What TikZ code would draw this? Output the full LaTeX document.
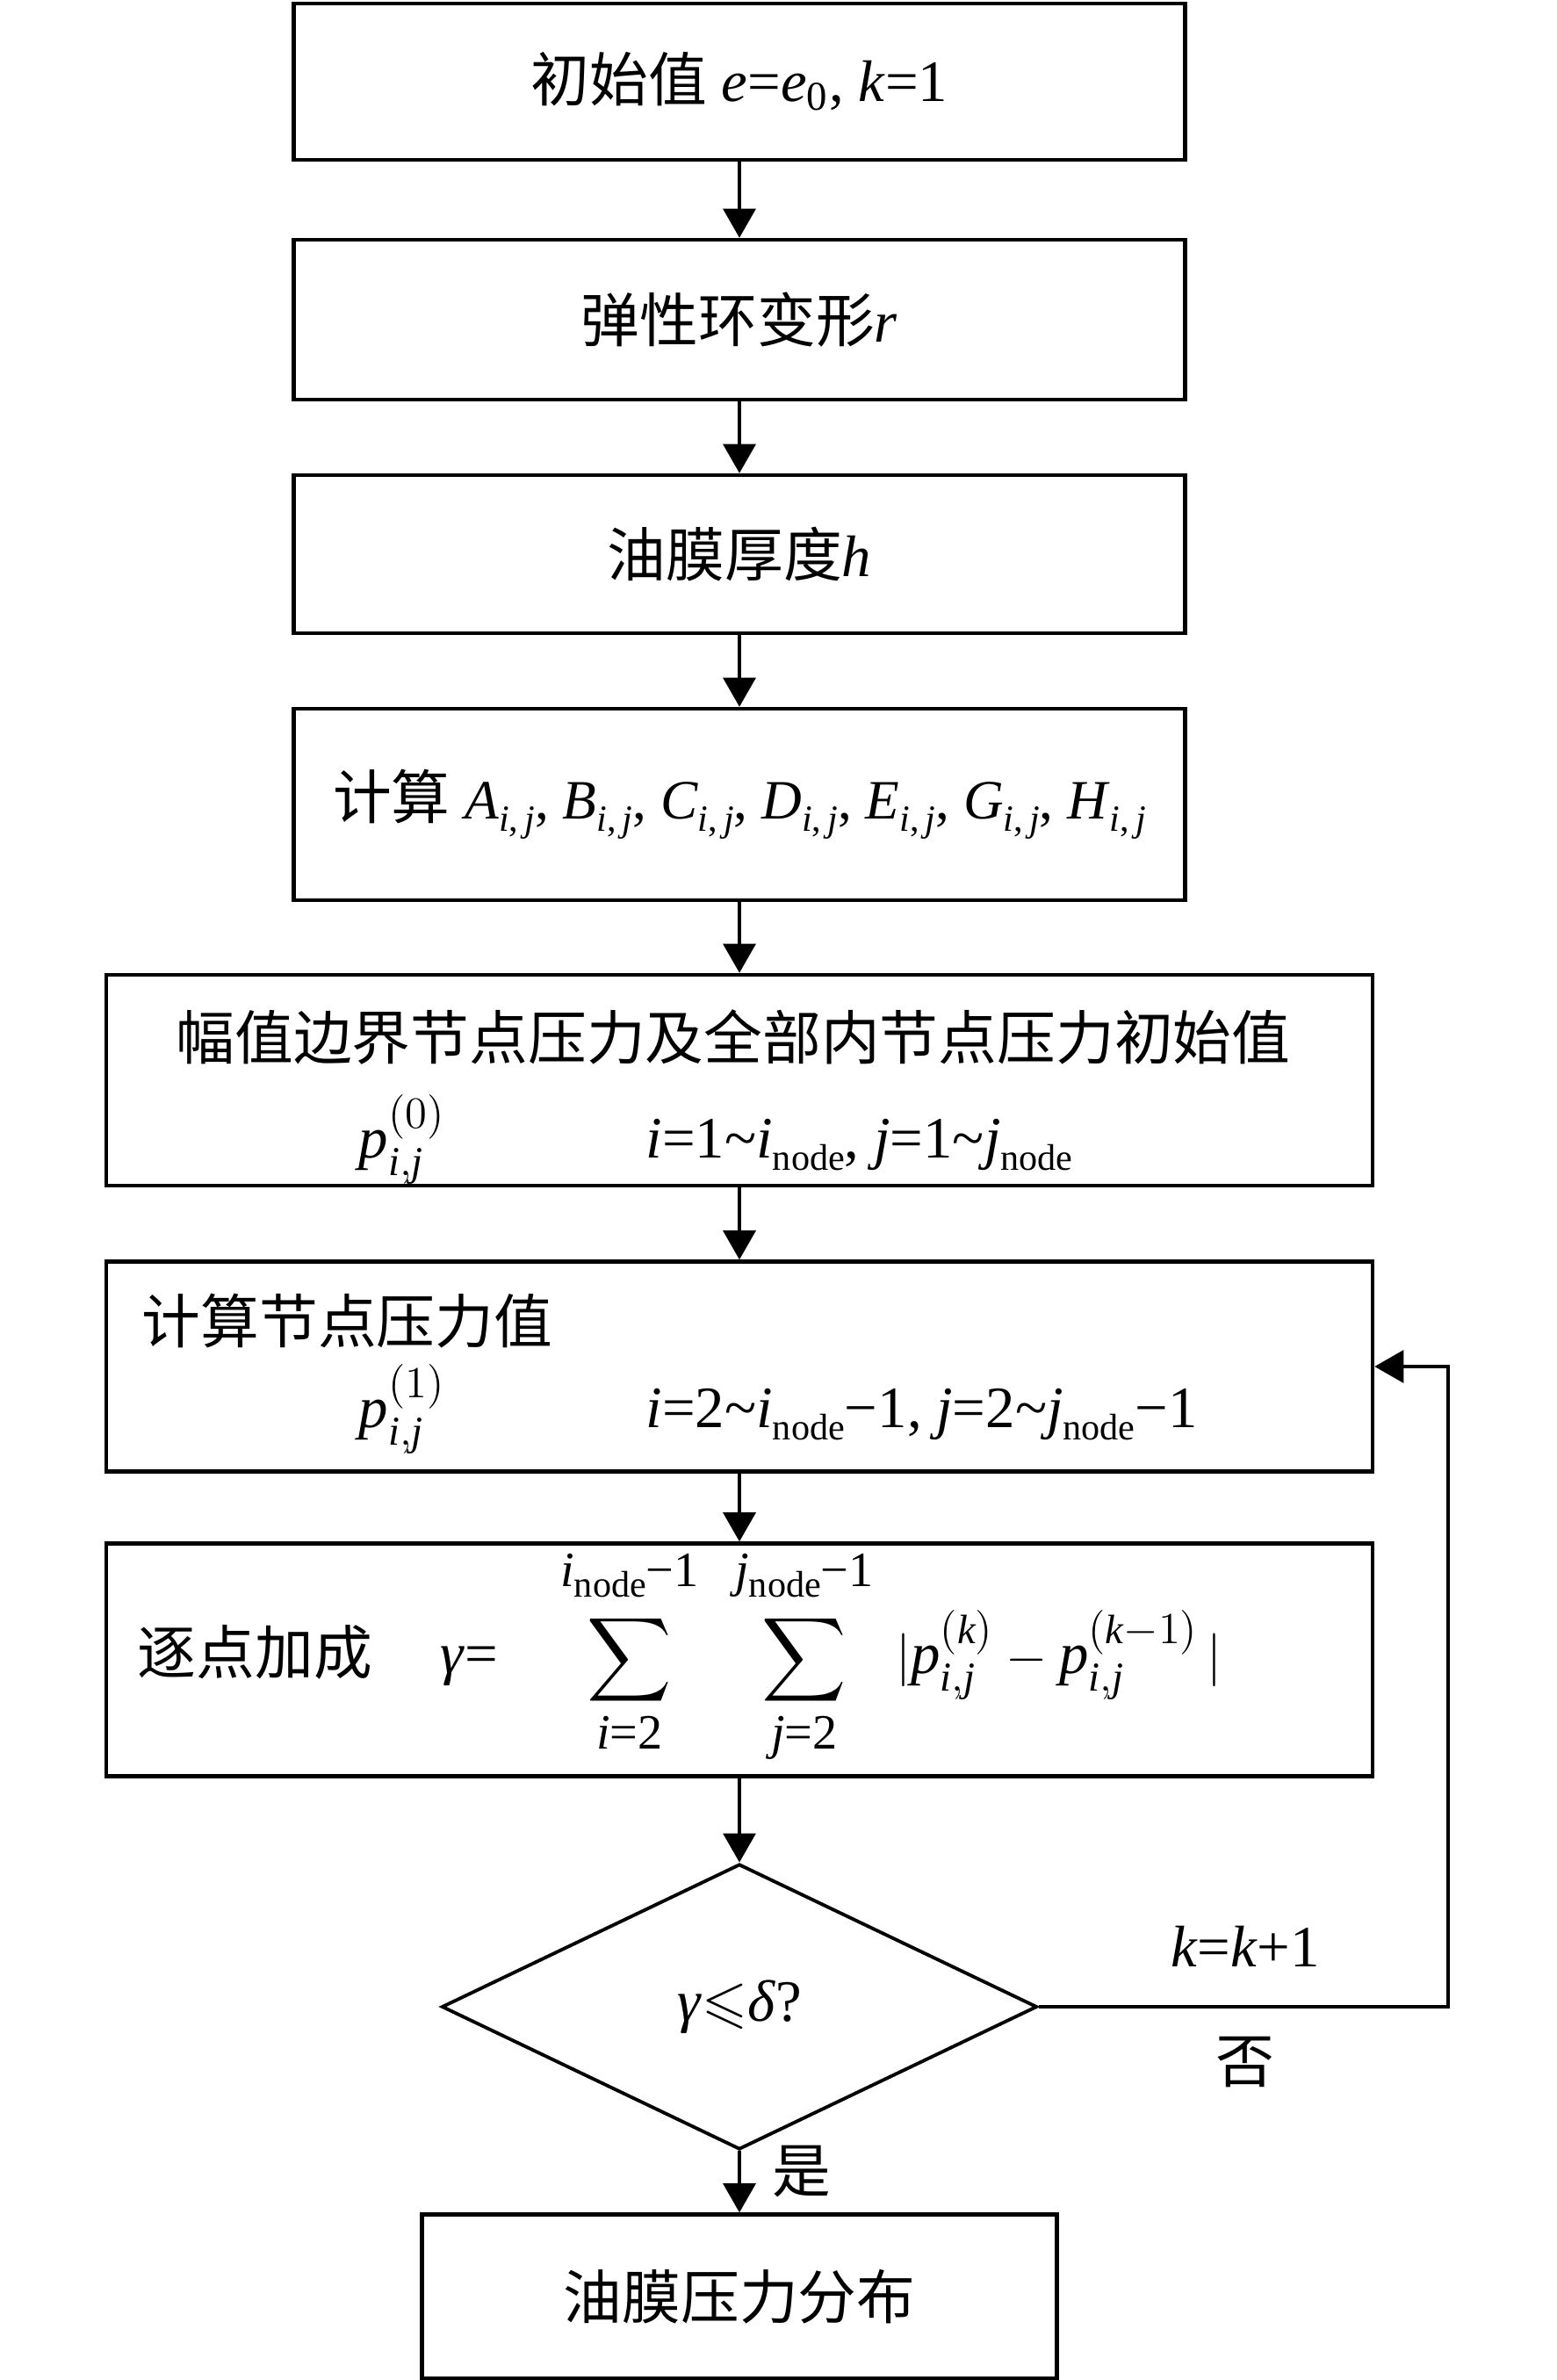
\documentclass[tikz,border=0pt]{standalone}
\usepackage{amsmath,amssymb}
\usepackage{fontspec}
\setmainfont{Liberation Serif}
\newfontfamily\cjk{Noto Sans CJK SC}
\usetikzlibrary{shapes.geometric,arrows.meta}
\newcommand{\vi}[1]{\textit{#1}}
\newcommand{\lo}[1]{\raisebox{-0.22em}{\fontsize{12}{12}\selectfont #1}}
\newcommand{\sij}{\lo{\vi{i},\,\vi{j}}}
\newcommand{\sumlim}[1]{\mbox{\fontsize{16}{16}\selectfont #1}}
\newcommand{\sumtop}[1]{\mbox{\fontsize{16}{16}\selectfont #1\rule[-0.4em]{0pt}{0pt}}}

\begin{document}
\begin{tikzpicture}[font=\fontsize{19}{23}\selectfont,
    box/.style={draw,line width=1.3pt,minimum width=10.15cm,inner sep=0pt},
    wide/.style={box,minimum width=14.42cm},
    txt/.style={inner sep=0pt},
    arr/.style={-{Triangle[length=0.33cm,width=0.37cm]},line width=0.9pt}]
  \useasboundingbox (0,0) rectangle (17.72,-27.10);

  \node[box,minimum height=1.78cm] (init) at (8.42,-0.93) {{\cjk 初始值} \vi{e}=\vi{e}\textsubscript{0}, \vi{k}=1};
  \node[box,minimum height=1.82cm] (ring) at (8.42,-3.64) {{\cjk 弹性环变形}\vi{r}};
  \node[box,minimum height=1.80cm] (film) at (8.42,-6.31) {{\cjk 油膜厚度}\vi{h}};
  \node[box,minimum height=2.18cm] (coef) at (8.42,-9.16) {{\cjk 计算} {\fontsize{18}{21}\selectfont \vi{A}\sij, \vi{B}\sij, \vi{C}\sij, \vi{D}\sij, \vi{E}\sij, \vi{G}\sij, \vi{H}\sij}};
  \node[wide,minimum height=2.40cm] (start) at (8.42,-12.30) {};
  \node[wide,minimum height=2.39cm] (calc) at (8.42,-15.56) {};
  \node[wide,minimum height=2.65cm] (sum) at (8.42,-18.90) {};
  \node[draw,diamond,line width=1.1pt,minimum width=6.78cm,minimum height=3.25cm,inner sep=0pt] (test) at (8.42,-22.85) {\vi{γ}$\leqslant$\vi{δ}?};
  \node[box,minimum width=7.23cm,minimum height=1.87cm] (result) at (8.42,-26.15) {\cjk 油膜压力分布};

  % texts inside the wide boxes
  \node[txt] (bnd1) at (8.35,-11.81) {\cjk 幅值边界节点压力及全部内节点压力初始值};
  \node[txt,anchor=base] (bnd2) at (4.58,-13.18) {$\vi{p}^{(0)}_{\vi{i},\vi{j}}$};
  \node[txt,anchor=base west] (bnd3) at (7.35,-13.18) {\vi{i}=1\textasciitilde\vi{i}\lo{node}, \vi{j}=1\textasciitilde\vi{j}\lo{node}};
  \node[txt,anchor=west] (calc1) at (1.61,-15.04) {\cjk 计算节点压力值};
  \node[txt,anchor=base] (calc2) at (4.58,-16.25) {$\vi{p}^{(1)}_{\vi{i},\vi{j}}$};
  \node[txt,anchor=base west] (calc3) at (7.35,-16.25) {\vi{i}=2\textasciitilde\vi{i}\lo{node}−1, \vi{j}=2\textasciitilde\vi{j}\lo{node}−1};
  \node[txt,anchor=west] (acc1) at (1.56,-18.81) {\cjk 逐点加成};
  \node[txt,anchor=base west] (acc2) at (5.01,-19.05) {\vi{γ}=};
  \node[anchor=base] (acc3) at (7.17,-19.05) {$\displaystyle\sum_{\sumlim{\vi{i}=2}}^{\sumtop{\vi{i}\lo{node}−1}}$};
  \node[anchor=base] (acc4) at (9.16,-19.05) {$\displaystyle\sum_{\sumlim{\vi{j}=2}}^{\sumtop{\vi{j}\lo{node}−1}}$};
  \node[txt,anchor=base west] (acc5) at (10.2,-19.05) {$|\vi{p}^{(\vi{k})}_{\vi{i},\vi{j}}-\vi{p}^{(\vi{k}-1)}_{\vi{i},\vi{j}}\,|$};

  \draw[arr] (init) -- (ring);
  \draw[arr] (ring) -- (film);
  \draw[arr] (film) -- (coef);
  \draw[arr] (coef) -- (start);
  \draw[arr] (start) -- (calc);
  \draw[arr] (calc) -- (sum);
  \draw[arr] (sum) -- (test);
  \draw[arr] (test) -- (result);

  % loop back
  \coordinate (turn) at (16.49,-22.85);
  \draw[arr] (test.east) -- (turn) |- (calc.east);
  \node (incr) at (14.18,-22.16) {\vi{k}=\vi{k}+1};
  \node (no) at (14.18,-23.48) {\cjk 否};
  \node (yes) at (9.13,-24.72) {\cjk 是};
\end{tikzpicture}
\end{document}
